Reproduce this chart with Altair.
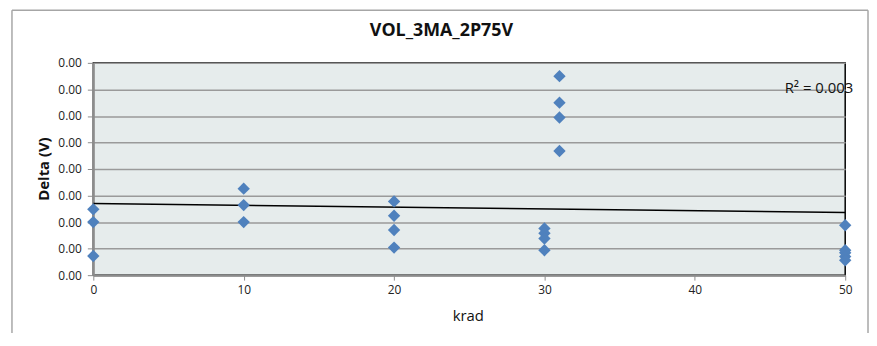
import altair as alt
import pandas as pd

# Data (Delta in volts, krad dose)
krad = [0, 0, 0,
        10, 10, 10,
        20, 20, 20, 20,
        30, 30, 30, 30,
        31, 31, 31, 31,
        50, 50, 50, 50, 50]
delta = [0.00124, 0.00100, 0.00036,
         0.00163, 0.00132, 0.00100,
         0.00139, 0.00112, 0.00085, 0.00052,
         0.00088, 0.00079, 0.00069, 0.00047,
         0.00375, 0.00325, 0.00297, 0.00234,
         0.00094, 0.00047, 0.00042, 0.00035, 0.00028]
trend_x = [0, 50]
trend_y = [0.00135, 0.00118]
y_ticks = [0, 0.0005, 0.001, 0.0015, 0.002, 0.0025, 0.003, 0.0035, 0.004]
x_ticks = [0, 10, 20, 30, 40, 50]

title_text = "VOL_3MA_2P75V"
x_title = "krad"
y_title = "Delta (V)"
r2_text = "R² = 0.003"

FONT = "Open Sans"
W, H = 758, 214

pts = pd.DataFrame({"krad": krad, "delta": delta})
trend = pd.DataFrame({"krad": trend_x, "delta": trend_y})

xs = alt.Scale(domain=[0, 50], nice=False, zero=True)
ys = alt.Scale(domain=[0, 0.004], nice=False, zero=True)

xax = alt.Axis(values=x_ticks, tickCount=20, grid=False, title=None, labelFont=FONT,
               labelFontSize=12, labelColor="#222", domainColor="#8c8c8c",
               domainWidth=2, tickColor="#8c8c8c", tickSize=5, labelPadding=4,
               labelFlush=False, labelOverlap=False)
yax = alt.Axis(values=y_ticks, tickCount=20, format=".2f",
               grid=True, gridColor="#9a9a9a",
               gridWidth=1.5, title=None, labelFont=FONT, labelFontSize=12,
               labelColor="#222", domainColor="#8c8c8c", domainWidth=2,
               tickColor="#8c8c8c", tickSize=6, labelPadding=6,
               labelFlush=False, labelOverlap=False)

points = alt.Chart(pts).mark_point(shape="diamond", filled=True, size=155,
                                   color="#4f81bd", opacity=1).encode(
    x=alt.X("krad:Q", scale=xs, axis=xax),
    y=alt.Y("delta:Q", scale=ys, axis=yax),
)

line = alt.Chart(trend).mark_line(color="black", strokeWidth=1.5).encode(
    x=alt.X("krad:Q", scale=xs),
    y=alt.Y("delta:Q", scale=ys),
)

one = alt.Data(values=[{"a": 0}])

def txt(t, x, y, size, weight="normal", angle=0, align="center"):
    return alt.Chart(one).mark_text(text=t, font=FONT, fontSize=size,
                                    fontWeight=weight, angle=angle, align=align,
                                    baseline="middle", color="#111").encode(
        x=alt.value(x), y=alt.value(y))

title_m = txt(title_text, 351, -32, 18, "bold")
ytitle_m = txt(y_title, -50, 107, 15, "bold", angle=270)
xtitle_m = txt(x_title, 378, 255, 15)
r2_m = txt(r2_text, 697, 25, 15, align="left")

def rule(x, x2, y, y2):
    return alt.Chart(one).mark_rule(color="#a6a6a6", strokeWidth=1.5).encode(
        x=alt.value(x), x2=alt.value(x2), y=alt.value(y), y2=alt.value(y2))

frame = rule(-82, -82, -53, 275) + rule(-82, 781, -53, -53) + rule(781, 781, -53, 275)

chart = alt.layer(frame, line, points, title_m, ytitle_m, xtitle_m, r2_m).properties(
    width=W, height=H,
    autosize=alt.AutoSizeParams(type="none"),
    padding={"left": 86, "top": 54, "right": 24, "bottom": 57},
    background="white",
).configure_view(
    fill="#e6ecec", stroke="black", strokeWidth=1.5
)

chart.save("out.html", embed_options={"renderer": "svg", "actions": False})
